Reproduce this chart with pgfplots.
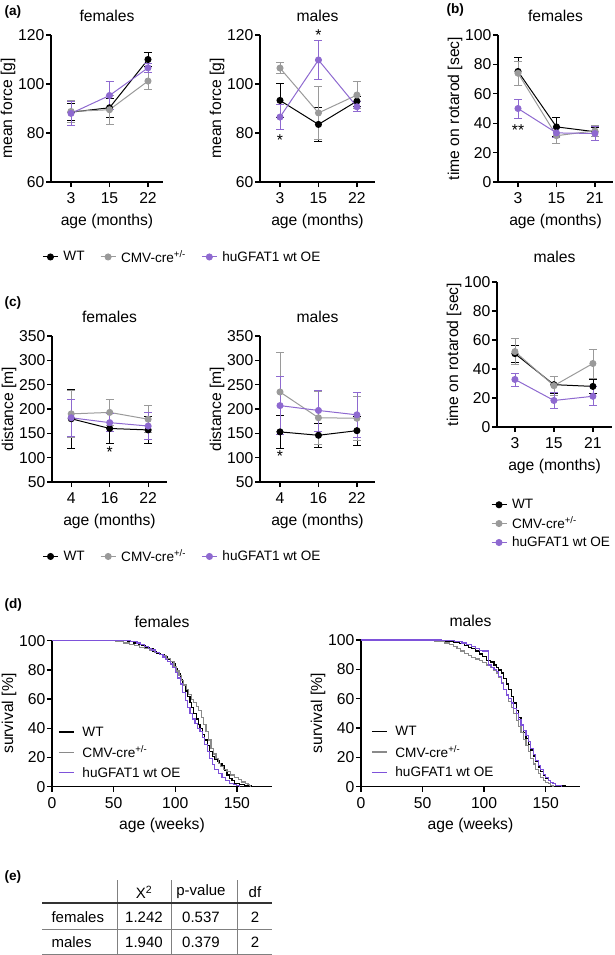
\documentclass[border=0pt]{standalone}
\usepackage{pgfplots}
\pgfplotsset{compat=1.18}
\usepackage{fontspec}
\setmainfont{Liberation Sans}
\definecolor{cmv}{HTML}{9A9A9A}
\definecolor{hu}{HTML}{8E69D0}
\definecolor{cmvs}{HTML}{8A8A8A}
\definecolor{hus}{HTML}{7E52DA}
\newcommand\fs{\fontsize{15.7}{18}\selectfont}
\newcommand\ft{\fontsize{15.7}{18}\selectfont}
\newcommand\fl{\fontsize{13.6}{16}\selectfont}
\newcommand\fe{\fontsize{15}{17}\selectfont}
\pgfplotsset{
  gp/.style={scale only axis, anchor=south west, clip=false,
    axis x line=bottom, axis y line=left,
    axis line style={line width=1.3pt,-},
    every tick/.style={line width=1.3pt,black},
    tick align=outside, major tick length=5pt,
    tick label style={font=\fs},
    yticklabel style={inner sep=1.5pt},
    xticklabel style={inner sep=2.5pt, yshift=-3pt},
    /pgf/number format/assume math mode=true,
    label style={font=\fs}, title style={font=\ft, yshift=4pt},
    xlabel style={yshift=-4pt}, ylabel style={inner sep=1pt},
    legend style={font=\fl, draw=none, fill=none},
    legend cell align=left,
  },
  cat/.style={xtick={0,1,2}, xticklabels={#1}},
  ser/.style={#1, line width=1pt, mark=*, mark size=3pt, mark options={solid,fill=#1},
    error bars/y dir=both, error bars/y explicit, error bars/error mark=|,
    error bars/error bar style={line width=0.8pt,#1},
    error bars/error mark options={mark size=4pt, line width=0.8pt,#1}},
  lgmark/.style={legend image code/.code={\draw[mark repeat=2,mark phase=2,##1] plot coordinates {(0pt,0pt)(7.5pt,0pt)(15pt,0pt)};}},
  lgline/.style={legend image code/.code={\draw[##1] (0pt,0pt)--(15pt,0pt);}},
  surv/.style={#1, line width=1.2pt, const plot mark left, mark=none},
}
\begin{document}
\begin{tikzpicture}
\path[use as bounding box] (0,0) rectangle (614pt,-955pt);
% panel letters
\node[anchor=west, font=\bfseries\fl] at (1pt,-12pt) {(a)};
\node[anchor=west, font=\bfseries\fl] at (443pt,-10pt) {(b)};
\node[anchor=west, font=\bfseries\fl] at (1pt,-303pt) {(c)};
\node[anchor=west, font=\bfseries\fl] at (1pt,-605pt) {(d)};
\node[anchor=west, font=\bfseries\fl] at (1pt,-877pt) {(e)};

% (a) females
\begin{axis}[gp, at={(51pt,-182pt)}, width=112pt, height=147pt,
  xmin=-0.52, xmax=2.39, ymin=60, ymax=120, ytick={60,80,100,120}, cat={3,15,22},
  title={females}, xlabel={age (months)}, ylabel={mean force [g]},
  lgmark, legend columns=3,
  legend style={at={(-0.105,-0.51)}, anchor=west,
    /tikz/every odd column/.append style={column sep=3pt},
    /tikz/every even column/.append style={column sep=13.5pt}}]
\addplot[ser=black] table[x=x,y=y,y error=e] {
x y e
0 88.5 3.5
1 90.3 4
2 110 3
};
\addplot[ser=cmv] table[x=x,y=y,y error=e] {
x y e
0 88.8 4.5
1 89.5 6
2 101.2 3.5
};
\addplot[ser=hu] table[x=x,y=y,y error=e] {
x y e
0 88 5
1 95.3 5.8
2 106.6 2
};
\legend{WT, CMV-cre\textsuperscript{+/-}, huGFAT1 wt OE}
\end{axis}

% (a) males
\begin{axis}[gp, at={(260pt,-182pt)}, width=115pt, height=147pt,
  xmin=-0.52, xmax=2.47, ymin=60, ymax=120, ytick={60,80,100,120}, cat={3,15,22},
  title={males}, xlabel={age (months)}, ylabel={mean force [g]}]
\addplot[ser=black] table[x=x,y=y,y error=e] {
x y e
0 93.3 6.8
1 83.5 7
2 93 2
};
\addplot[ser=cmv] table[x=x,y=y,y error=e] {
x y e
0 106.5 2.3
1 88.2 10.7
2 95.5 5.5
};
\addplot[ser=hu] table[x=x,y=y,y error=e] {
x y e
0 86.5 5
1 109.8 8
2 90.7 2
};
\node[font=\fs] at (axis cs:0,77) {*};
\node[font=\fs] at (axis cs:1,120) {*};
\end{axis}

% (b) females
\begin{axis}[gp, at={(498pt,-182pt)}, width=115pt, height=147pt,
  xmin=-0.52, xmax=2.47, ymin=0, ymax=100, ytick={0,20,...,100}, cat={3,15,21},
  title={females}, xlabel={age (months)}, ylabel={time on rotarod [sec]}]
\addplot[ser=black] table[x=x,y=y,y error=e] {
x y e
0 75.2 9.6
1 37.5 6.5
2 34.2 3
};
\addplot[ser=cmv] table[x=x,y=y,y error=e] {
x y e
0 74 8
1 31.5 5
2 34.8 3.5
};
\addplot[ser=hu] table[x=x,y=y,y error=e] {
x y e
0 50 6.5
1 33.4 3
2 33 4.5
};
\node[font=\fs] at (axis cs:0,35.5) {**};
\end{axis}

% (b) males
\begin{axis}[gp, at={(497pt,-427pt)}, width=115pt, height=145pt,
  xmin=-0.46, xmax=2.49, ymin=0, ymax=100, ytick={0,20,...,100}, cat={3,15,21},
  title={males}, title style={yshift=6pt}, xlabel={age (months)}, ylabel={time on rotarod [sec]},
  lgmark, legend columns=1,
  legend style={at={(-0.08,-0.47)}, anchor=north west, row sep=2.5pt,
    /tikz/every odd column/.append style={column sep=3pt}}]
\addplot[ser=black] table[x=x,y=y,y error=e] {
x y e
0 50.6 6
1 29.2 6
2 28 5
};
\addplot[ser=cmv] table[x=x,y=y,y error=e] {
x y e
0 52 9
1 28.5 6.5
2 43.8 10
};
\addplot[ser=hu] table[x=x,y=y,y error=e] {
x y e
0 32.8 4.5
1 18.3 5.5
2 21.2 6.5
};
\legend{WT, CMV-cre\textsuperscript{+/-}, huGFAT1 wt OE}
\end{axis}

% (c) females
\begin{axis}[gp, at={(52pt,-482pt)}, width=115pt, height=146pt,
  xmin=-0.5, xmax=2.49, ymin=50, ymax=350, ytick={50,100,...,350}, cat={4,16,22},
  title={females}, xlabel={age (months)}, ylabel={distance [m]},
  lgmark, legend columns=3,
  legend style={at={(-0.11,-0.51)}, anchor=west,
    /tikz/every odd column/.append style={column sep=3pt},
    /tikz/every even column/.append style={column sep=13.5pt}}]
\addplot[ser=black] table[x=x,y=y,y error=e] {
x y e
0 180 60
1 160 30
2 157 27
};
\addplot[ser=cmv] table[x=x,y=y,y error=e] {
x y e
0 190 48
1 193 27
2 179 28
};
\addplot[ser=hu] table[x=x,y=y,y error=e] {
x y e
0 182 38
1 172 18
2 165 27
};
\node[font=\fs] at (axis cs:1,112) {*};
\legend{WT, CMV-cre\textsuperscript{+/-}, huGFAT1 wt OE}
\end{axis}

% (c) males
\begin{axis}[gp, at={(260pt,-482pt)}, width=115pt, height=146pt,
  xmin=-0.52, xmax=2.47, ymin=50, ymax=350, ytick={50,100,...,350}, cat={4,16,22},
  title={males}, xlabel={age (months)}, ylabel={distance [m]}]
\addplot[ser=black] table[x=x,y=y,y error=e] {
x y e
0 153 33
1 146 25
2 155.5 30
};
\addplot[ser=cmv] table[x=x,y=y,y error=e] {
x y e
0 235 82
1 182 55
2 181 45
};
\addplot[ser=hu] table[x=x,y=y,y error=e] {
x y e
0 207 60
1 197 42
2 188 47
};
\node[font=\fs] at (axis cs:0,104) {*};
\end{axis}

% (d) females
\begin{axis}[gp, at={(52pt,-786.7pt)}, width=220pt, height=146pt,
  xmin=0, xmax=178.5, ymin=0, ymax=100, xtick={0,50,100,150}, ytick={0,20,...,100},
  title={females}, xlabel={age (weeks)}, ylabel={survival [\%]},
  lgline, legend style={at={(0.014,0.44)}, anchor=north west, row sep=4pt,
    /tikz/every odd column/.append style={column sep=6pt}}]
\addplot[surv=black] table {
0 100
61 99.2
66 98.4
70 97.6
73 96.8
76 95.2
79 94.4
82 92.8
85 91.2
88 90.4
91 88.8
94 87.2
96 85.6
98 84.0
100 80.8
102 77.6
104 73.6
106 69.6
108 65.6
110 61.6
112 57.6
113 54.4
115 50.4
117 46.4
119 42.4
120 40.0
122 36.0
124 32.0
126 28.0
128 24.0
130 20.8
132 18.4
134 17.6
136 16.0
138 14.4
140 11.2
142 8.0
144 5.6
146 4.0
148 2.4
152 1.6
156 0.8
162 0
};
\addplot[surv=cmvs] table {
0 100
52 99.2
58 98.4
63 97.6
67 96.8
71 95.2
75 94.4
79 93.6
83 92.0
87 90.4
90 89.6
93 88.0
96 85.6
99 82.4
101 79.2
103 76.0
105 72.8
107 69.6
109 66.4
111 63.2
113 60.0
115 57.6
117 55.2
119 52.0
121 47.2
123 42.4
125 37.6
127 32.0
129 26.4
131 22.4
133 19.2
135 16.0
137 13.6
139 12.0
142 10.4
145 8.0
148 6.4
151 4.8
154 3.2
157 2.4
159 1.6
160 0.8
161 0
};
\addplot[surv=hus] table {
0 100
64 99.2
69 98.4
72 97.6
75 96.0
78 94.4
81 93.6
84 92.0
87 90.4
90 88.8
92 87.2
94 85.6
96 84.0
98 81.6
100 78.4
102 74.4
104 70.4
106 64.8
108 59.2
110 54.4
112 50.4
114 46.4
116 43.2
118 40.0
120 37.6
122 33.6
124 28.8
126 24.0
128 19.2
130 15.2
132 12.0
135 8.8
138 6.4
141 4.0
144 2.4
147 1.6
150 0.8
152 0
};
\legend{WT, CMV-cre\textsuperscript{+/-}, huGFAT1 wt OE}
\end{axis}

% (d) males
\begin{axis}[gp, at={(361pt,-786.7pt)}, width=219pt, height=146.7pt,
  xmin=0, xmax=177.9, ymin=0, ymax=100, xtick={0,50,100,150}, ytick={0,20,...,100},
  title={males}, xlabel={age (weeks)}, ylabel={survival [\%]},
  lgline, legend style={at={(0.032,0.44)}, anchor=north west, row sep=4pt,
    /tikz/every odd column/.append style={column sep=6pt}}]
\addplot[surv=black] table {
0 100
35 99.5
60 99.0
75 98.5
80 97.5
84 96.5
87 95.0
90 94.0
93 92.5
96 90.5
99 88.5
102 86.0
105 85.0
108 83.0
110 81.0
112 79.5
114 77.5
116 74.0
118 70.0
120 66.0
122 61.5
124 57.0
126 52.0
128 47.0
130 42.0
132 37.0
134 33.0
136 29.0
138 25.0
140 21.0
142 17.0
144 13.5
146 10.5
148 8.0
150 6.0
152 4.5
154 3.0
156 2.0
158 1.0
162 0.5
166 0
};
\addplot[surv=cmvs] table {
0 100
33 99.5
60 99.0
68 98.0
72 97.0
75 95.5
78 94.0
81 92.5
84 91.0
87 89.5
90 88.0
93 87.0
96 86.0
99 84.5
102 83.0
105 81.5
108 79.5
110 77.5
112 74.5
114 71.0
116 66.5
118 62.0
120 58.0
122 54.0
124 50.0
126 45.0
128 41.0
130 37.0
132 32.0
134 28.0
136 24.0
138 19.5
140 15.5
142 12.0
144 9.0
146 6.5
148 4.5
150 3.0
152 2.0
154 1.0
156 0
};
\addplot[surv=hus] table {
0 100
65 99.5
76 99.0
82 98.0
86 97.0
90 95.5
93 94.0
96 93.0
99 92.5
103.5 83.0
106 81.5
108 80.0
110 78.5
112 75.0
114 70.5
116 66.0
118 62.5
120 60.0
122 57.0
124 53.5
126 50.0
128 46.0
130 42.0
132 38.5
134 35.0
136 31.0
138 26.0
140 22.0
142 18.0
144 14.5
146 11.5
148 8.5
150 6.5
152 4.5
154 3.0
156 2.0
158 1.0
163 0
};
\legend{WT, CMV-cre\textsuperscript{+/-}, huGFAT1 wt OE}
\end{axis}

% (e) table
\draw[line width=0.8pt, gray] (117pt,-880pt) -- (117pt,-954pt);
\draw[line width=0.8pt, gray] (171pt,-880pt) -- (171pt,-954pt);
\draw[line width=0.8pt, gray] (237pt,-880pt) -- (237pt,-954pt);
\draw[line width=1.3pt, black!80] (42pt,-903pt) -- (272pt,-903pt);
\draw[line width=0.8pt, gray] (42pt,-929pt) -- (272pt,-929pt);
\draw[line width=0.8pt, gray] (42pt,-954pt) -- (272pt,-954pt);
\node[font=\fe] at (144pt,-892pt) {Χ\textsuperscript{2}};
\node[font=\fe] at (201pt,-892pt) {p-value};
\node[font=\fe] at (255pt,-892pt) {df};
\node[font=\fe, anchor=west] at (48pt,-917pt) {females};
\node[font=\fe] at (144pt,-917pt) {1.242};
\node[font=\fe] at (201pt,-917pt) {0.537};
\node[font=\fe] at (255pt,-917pt) {2};
\node[font=\fe, anchor=west] at (48pt,-942pt) {males};
\node[font=\fe] at (144pt,-942pt) {1.940};
\node[font=\fe] at (201pt,-942pt) {0.379};
\node[font=\fe] at (255pt,-942pt) {2};
\end{tikzpicture}
\end{document}
